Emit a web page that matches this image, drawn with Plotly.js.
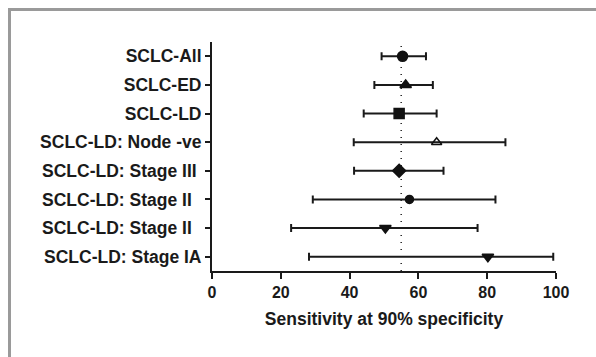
<!DOCTYPE html>
<html>
<head>
<meta charset="utf-8">
<script src="https://cdn.plot.ly/plotly-3.0.1.min.js"></script>
<style>
html,body{margin:0;padding:0;background:#fff;}
#frame{position:absolute;left:0;top:0;width:596px;height:357px;}
#bt{position:absolute;left:8px;top:8px;width:588px;height:3px;background:#9a9a9a;}
#bl{position:absolute;left:8px;top:8px;width:3px;height:349px;background:#9a9a9a;}
#chart{position:absolute;left:0;top:0;width:596px;height:357px;}
</style>
</head>
<body>
<div id="chart"></div>
<div id="frame"><div id="bt"></div><div id="bl"></div></div>
<script>
const categories = ["SCLC-All","SCLC-ED","SCLC-LD","SCLC-LD: Node -ve","SCLC-LD: Stage III\u00a0","SCLC-LD: Stage II\u00a0\u00a0","SCLC-LD: Stage II\u00a0\u00a0","SCLC-LD: Stage IA"];
const sensitivity = [55.4, 56.3, 54.4, 65.3, 54.4, 57.4, 50.4, 80.2];
const ciLower = [49.3, 47.2, 44.1, 41.2, 41.3, 29.3, 23.0, 28.2];
const ciUpper = [62.2, 64.2, 65.3, 85.3, 67.3, 82.4, 77.2, 99.2];
const markerSymbols = ["circle","triangle-up","square","triangle-up-open","diamond","circle","triangle-down","triangle-down"];
const markerSizes = [10, 10, 10, 9, 10, 8, 10, 10];
const referenceLine = 55;
const xTicks = [0, 20, 40, 60, 80, 100];

const positions = categories.map((c, i) => i);
const trace = {
  type: "scatter",
  mode: "markers",
  x: sensitivity,
  y: positions,
  marker: {symbol: markerSymbols, size: markerSizes, color: "#111", opacity: 1, line: {color: "#111", width: 1.5}},
  error_x: {
    type: "data", symmetric: false,
    array: sensitivity.map((v, i) => ciUpper[i] - v),
    arrayminus: sensitivity.map((v, i) => v - ciLower[i]),
    color: "#1a1a1a", thickness: 2, width: 4
  },
  hoverinfo: "x+y",
  showlegend: false
};

const layout = {
  width: 596, height: 357,
  margin: {l: 212, r: 40, t: 42, b: 86},
  paper_bgcolor: "#fff", plot_bgcolor: "#fff",
  font: {family: "Liberation Sans, Arial, sans-serif", color: "#1a1a1a"},
  xaxis: {
    range: [0, 100], tickvals: xTicks, ticktext: xTicks.map(v => "<b>" + v + "</b>"),
    showgrid: false, zeroline: false, showline: true, linecolor: "#1a1a1a", linewidth: 2,
    ticks: "outside", ticklen: 6, tickwidth: 2, tickcolor: "#1a1a1a",
    tickfont: {size: 16, family: "Liberation Sans, Arial, sans-serif"},
    title: {text: "<b>Sensitivity at 90% specificity</b>", font: {size: 17.5}, standoff: 13}
  },
  yaxis: {
    range: [7.5, -0.5], tickvals: positions, ticktext: categories.map(c => "<b>" + c + "</b>"),
    showgrid: false, zeroline: false, showline: true, linecolor: "#1a1a1a", linewidth: 2,
    ticks: "outside", ticklen: 5, tickwidth: 2, tickcolor: "#1a1a1a",
    tickfont: {size: 17.5, family: "Liberation Sans, Arial, sans-serif"}
  },
  shapes: [{
    type: "line", xref: "x", yref: "paper", x0: referenceLine, x1: referenceLine, y0: 0, y1: 1,
    line: {color: "#222", width: 1.5, dash: "1px,6px"}, layer: "below"
  }]
};

Plotly.newPlot("chart", [trace], layout, {displayModeBar: false, staticPlot: true});
</script>
</body>
</html>
